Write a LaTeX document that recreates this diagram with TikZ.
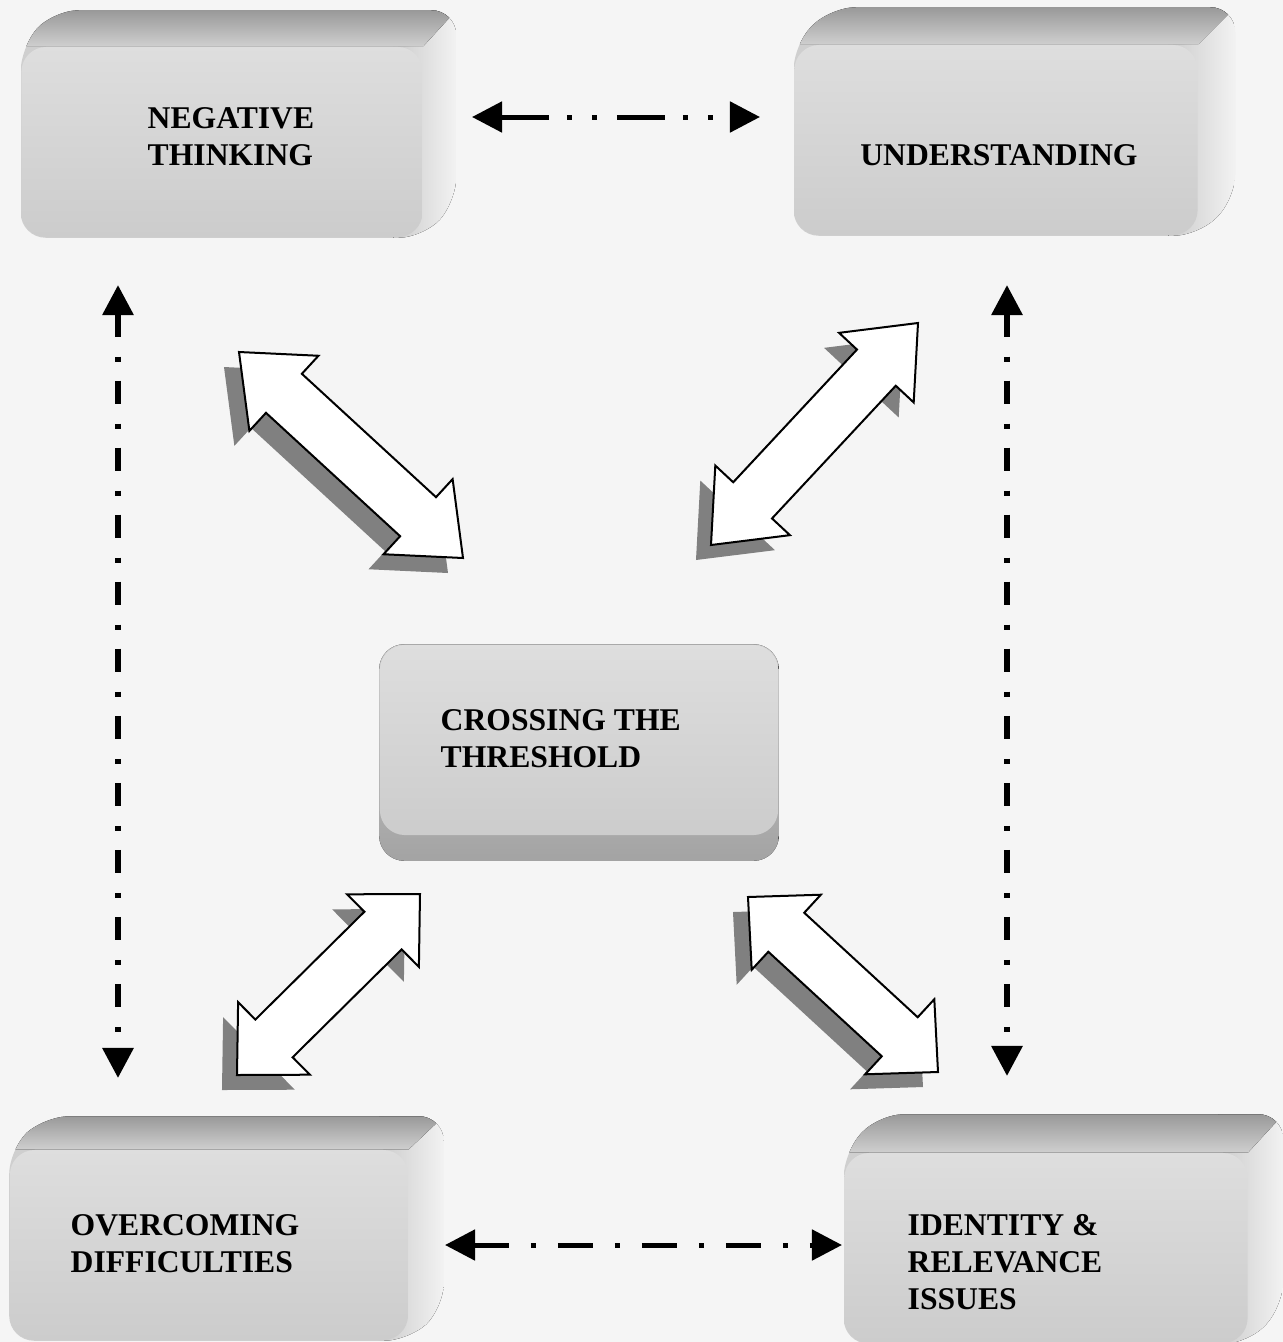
\documentclass[tikz,border=0pt]{standalone}
\usepackage{fontspec}
\setmainfont{Liberation Serif}
\usetikzlibrary{arrows.meta,calc,shadows,backgrounds}
\definecolor{paper}{RGB}{245,245,245}

\begin{document}
\begin{tikzpicture}[
      x=0.01cm, y=-0.01cm,
      every node/.style={font=\bfseries\fontsize{9}{10.5}\selectfont},
      slab/.style={rounded corners=0.25cm, minimum height=1.9cm, inner sep=0pt, top color=black!13, bottom color=black!20},
      lid/.style={top color=black!40, bottom color=black!19},
      flank/.style={left color=black!20, right color=black!5},
      sole/.style={rounded corners=0.25cm, top color=black!20, bottom color=black!36},
      caption/.style={align=left, anchor=west, inner sep=0pt},
      link/.style={line width=0.05cm, {Triangle[length=0.3cm,width=0.3cm]}-{Triangle[length=0.3cm,width=0.3cm]}},
      fat/.style={draw=black, line width=0.02cm, fill=white, line join=miter,
        drop shadow={opacity=1, fill=black!50, shadow xshift=-0.15cm, shadow yshift=-0.15cm}}
    ]
      \useasboundingbox (0,0) rectangle (1283,1342);

      \node[slab, minimum width=4.01cm] (neg) at (222,142) {};
      \node[slab, minimum width=4.03cm] (und) at (996,140) {};
      \node[slab, minimum width=3.98cm] (cross) at (579,740) {};
      \node[slab, minimum width=3.98cm] (over) at (209,1245) {};
      \node[slab, minimum width=4.03cm] (ident) at (1046,1248) {};

      \node[caption] (negtxt) at (147,137) {NEGATIVE\\THINKING};
      \node (undtxt) at (999,155) {UNDERSTANDING};
      \node[caption] (crosstxt) at (440,739) {CROSSING THE\\THRESHOLD};
      \node[caption] (overtxt) at (70,1244) {OVERCOMING\\DIFFICULTIES};
      \node[caption] (identtxt) at (907,1262) {IDENTITY \&\\RELEVANCE\\ISSUES};

      \begin{pgfonlayer}{background}
        \fill[paper] (0,0) rectangle (1283,1342);
        \foreach \b/\dx/\dy in {neg/33/-36, und/37/-37, over/35/-33, ident/35/-38} {
          \begin{scope}
            \clip[rounded corners=0.25cm] (\b.north west) -- ([shift={(\dx,\dy)}]\b.north west)
              -- ([shift={(\dx,\dy)}]\b.north east) -- ([shift={(\dx,\dy)}]\b.south east)
              -- (\b.south east) -- (\b.south west) -- cycle;
            \fill[black!19] (\b.south west) rectangle ([shift={(\dx,\dy)}]\b.north east);
            \fill[flank] ([shift={(-30,\dy)}]\b.north east) rectangle ([shift={(\dx,0)}]\b.south east);
            \fill[lid] (\b.north west) -- ([shift={(\dx,\dy)}]\b.north west)
              -- ([shift={(\dx,\dy)}]\b.north east) -- (\b.north east) -- cycle;
          \end{scope}
        }
        \fill[sole] (cross.north west) -- (cross.north east) -- ([yshift=-0.25cm]cross.south east)
          -- ([yshift=-0.25cm]cross.south west) -- cycle;
      \end{pgfonlayer}

      \coordinate (ul1) at (239,352);
      \coordinate (ul2) at (463,558);
      \coordinate (ur1) at (918,323);
      \coordinate (ur2) at (711,545);
      \coordinate (ll1) at (420,894);
      \coordinate (ll2) at (237,1075);
      \coordinate (lr1) at (748,897);
      \coordinate (lr2) at (938,1072);
      \foreach \s/\e/\h in {ul1/ul2/0.61cm, ur1/ur2/0.61cm, ll1/ll2/0.52cm, lr1/lr2/0.52cm} {
        \coordinate (hs) at ($(\s)!\h!(\e)$);
        \coordinate (he) at ($(\e)!\h!(\s)$);
        \draw[fat] (\s) -- ($(hs)!0.51cm!90:(\e)$) -- ($(hs)!0.265cm!90:(\e)$) -- ($(he)!0.265cm!-90:(\s)$)
          -- ($(he)!0.51cm!-90:(\s)$) -- (\e) -- ($(he)!0.51cm!90:(\s)$) -- ($(he)!0.265cm!90:(\s)$)
          -- ($(hs)!0.265cm!-90:(\e)$) -- ($(hs)!0.51cm!-90:(\e)$) -- cycle;
      }

      \coordinate (t1) at (472,117);
      \coordinate (t2) at (760,117);
      \coordinate (b1) at (445,1245);
      \coordinate (b2) at (842,1245);
      \coordinate (l1) at (118,285);
      \coordinate (l2) at (118,1078);
      \coordinate (r1) at (1007,285);
      \coordinate (r2) at (1007,1076);
      \draw[link, dash pattern=on 0.48cm off 0.18cm on 0.05cm off 0.2cm on 0.05cm off 0.2cm] (t1) -- (t2);
      \draw[link, dash pattern=on 0.35cm off 0.22cm on 0.05cm off 0.22cm] (b1) -- (b2);
      \draw[link, line width=0.06cm, dash pattern=on 0.23cm off 0.2cm on 0.05cm off 0.19cm] (l1) -- (l2);
      \draw[link, line width=0.06cm, dash pattern=on 0.23cm off 0.2cm on 0.05cm off 0.19cm] (r1) -- (r2);
    \end{tikzpicture}
\end{document}
